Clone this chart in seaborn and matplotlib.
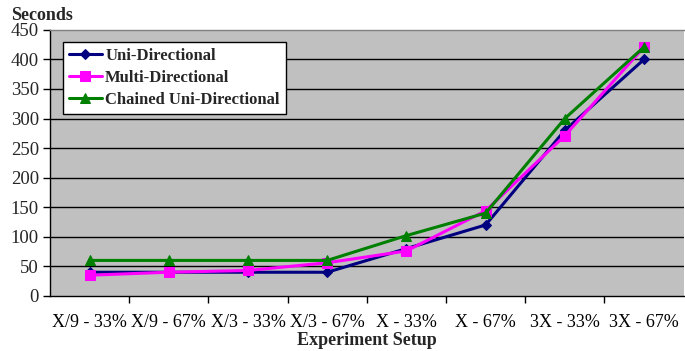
import numpy as np
import pandas as pd
import matplotlib
matplotlib.use("Agg")
import matplotlib.pyplot as plt
import seaborn as sns
from matplotlib.ticker import FixedLocator, MultipleLocator

categories = ["X/9 - 33%", "X/9 - 67%", "X/3 - 33%", "X/3 - 67%",
              "X - 33%", "X - 67%", "3X - 33%", "3X - 67%"]
uni = [40, 40, 40, 40, 80, 120, 280, 400]
multi = [35, 40, 43, 56, 76, 144, 271, 421]
chained = [60, 60, 60, 60, 102, 140, 300, 421]
series_names = ["Uni-Directional", "Multi-Directional", "Chained Uni-Directional"]

rows = []
for name, vals in zip(series_names, [uni, multi, chained]):
    for i, v in enumerate(vals):
        rows.append({"pos": i, "Seconds": v, "Series": name})
df = pd.DataFrame(rows)

sns.set_theme(style="white")
plt.rcParams["font.family"] = ["Liberation Serif", "DejaVu Serif"]

fig = plt.figure(figsize=(6.85, 3.51), dpi=100)
ax = fig.add_axes([0.073, 0.157, 0.925, 0.758])
ax.set_facecolor("#C0C0C0")

palette = {"Uni-Directional": "#000080", "Multi-Directional": "#FF00FF",
           "Chained Uni-Directional": "#008000"}
markers = {"Uni-Directional": "D", "Multi-Directional": "s",
           "Chained Uni-Directional": "^"}
sizes_m = {"Uni-Directional": 5.5, "Multi-Directional": 7, "Chained Uni-Directional": 7.5}

for name in series_names:
    sub = df[df["Series"] == name]
    sns.lineplot(data=sub, x="pos", y="Seconds", ax=ax, color=palette[name],
                 marker=markers[name], markersize=sizes_m[name], linewidth=2.2,
                 markeredgecolor=palette[name], label=name, sort=False, zorder=3)

ax.set_xlim(-0.5, 7.5)
ax.set_ylim(0, 450)
ax.yaxis.set_major_locator(MultipleLocator(50))
ax.set_yticklabels([str(int(v)) for v in ax.get_yticks()])
for y in range(50, 450, 50):
    ax.axhline(y, color="black", linewidth=1.0, zorder=1)

ax.set_xticks(range(len(categories)))
ax.set_xticklabels(categories)
ax.xaxis.set_minor_locator(FixedLocator([i + 0.5 for i in range(len(categories) - 1)]))
ax.tick_params(axis="x", which="major", length=0, pad=13, labelsize=13, colors="black")
ax.tick_params(axis="x", which="minor", length=5, width=1, color="black", direction="out", bottom=True)
ax.tick_params(axis="y", which="major", length=5, width=1, color="black", direction="out",
               left=True, labelsize=13.5, pad=3)

for s in ["left", "bottom"]:
    ax.spines[s].set_color("black")
    ax.spines[s].set_linewidth(1.0)
ax.spines["top"].set_color("#808080")
ax.spines["top"].set_linewidth(1.0)
ax.spines["right"].set_visible(False)

ax.set_xlabel("Experiment Setup", fontsize=13, fontweight="bold", labelpad=1)
ax.set_ylabel("")
fig.text(0.016, 0.955, "Seconds", fontsize=13, fontweight="bold", ha="left", va="center")

leg = ax.legend(loc="upper left", bbox_to_anchor=(0.02, 0.955), frameon=True, fancybox=False,
                framealpha=1, edgecolor="black", facecolor="white",
                prop={"weight": "bold", "size": 12}, handlelength=2.0,
                handletextpad=0.2, borderpad=0.35, labelspacing=0.38, borderaxespad=0)
leg.get_frame().set_linewidth(1.0)

fig.savefig("out.png", dpi=100)
